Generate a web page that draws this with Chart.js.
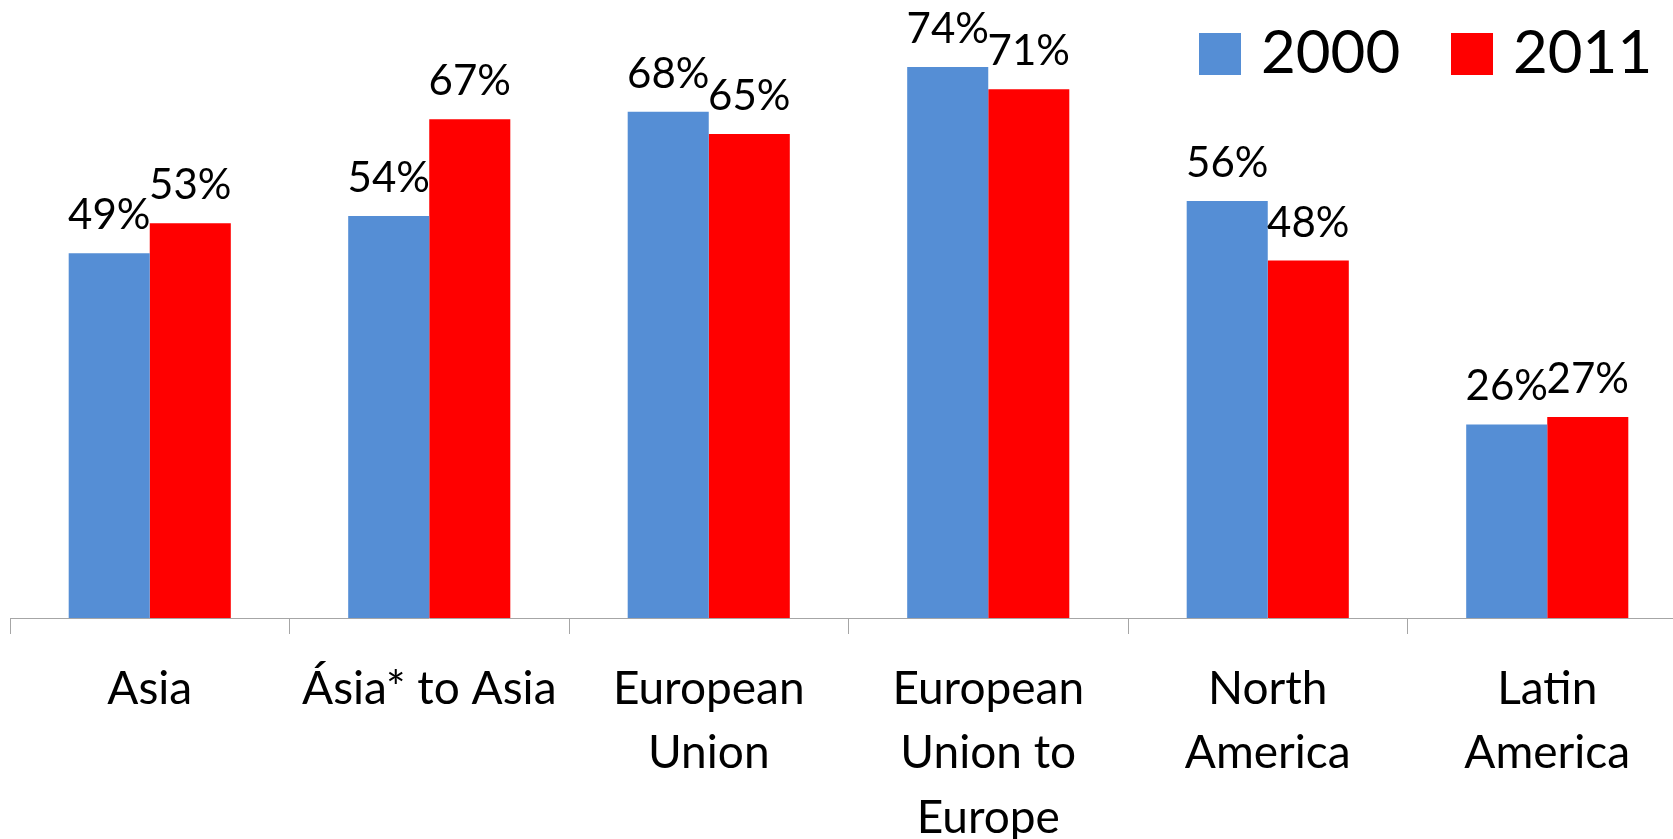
<!DOCTYPE html>
<html>
<head>
<meta charset="utf-8">
<script src="https://cdn.jsdelivr.net/npm/chart.js@4"></script>
<style>
  html, body { margin: 0; padding: 0; background: #fff; overflow: hidden; }
  #wrap { width: 1687px; height: 839px; }
</style>
</head>
<body>
<div id="wrap"><canvas id="chart" width="1687" height="839"></canvas></div>
<script>
// categories, split into lines the way they are shown under the axis
const regions = [
  ["Asia"],
  ["Ásia* to Asia"],
  ["European", "Union"],
  ["European", "Union to", "Europe"],
  ["North", "America"],
  ["Latin", "America"]
];
const seriesNames = ["2000", "2011"];
const share2000 = [49, 54, 68, 74, 56, 26];
const share2011 = [53, 67, 65, 71, 48, 27];
const seriesColors = ["#558ED5", "#FF0000"];

const FONT = "Lato, 'Open Sans', sans-serif";

// percentage labels above each bar
const valueLabels = {
  id: "valueLabels",
  afterDatasetsDraw(chart) {
    const ctx = chart.ctx;
    ctx.save();
    ctx.font = "42px " + FONT;
    ctx.fillStyle = "#000";
    ctx.textAlign = "center";
    ctx.textBaseline = "alphabetic";
    chart.data.datasets.forEach((ds, i) => {
      chart.getDatasetMeta(i).data.forEach((bar, j) => {
        ctx.fillText(ds.data[j] + "%", bar.x, bar.y - 24);
      });
    });
    ctx.restore();
  }
};

// legend in the top right corner
const cornerLegend = {
  id: "cornerLegend",
  afterDraw(chart) {
    const ctx = chart.ctx;
    const spots = [1199, 1451];
    ctx.save();
    ctx.font = "60px " + FONT;
    ctx.textBaseline = "middle";
    ctx.textAlign = "left";
    chart.data.datasets.forEach((ds, i) => {
      const x = spots[i];
      ctx.fillStyle = ds.backgroundColor;
      ctx.fillRect(x, 33, 42, 42);
      ctx.fillStyle = "#000";
      ctx.fillText(ds.label, x + 62, 54);
    });
    ctx.restore();
  }
};

new Chart(document.getElementById("chart"), {
  type: "bar",
  data: {
    labels: regions,
    datasets: [
      { label: seriesNames[0], data: share2000, backgroundColor: seriesColors[0] },
      { label: seriesNames[1], data: share2011, backgroundColor: seriesColors[1] }
    ]
  },
  options: {
    responsive: false,
    animation: false,
    devicePixelRatio: 1,
    layout: { padding: { left: 10, right: 0, top: 0, bottom: 0 } },
    categoryPercentage: 0.58,
    barPercentage: 1,
    plugins: { legend: { display: false }, tooltip: { enabled: false } },
    scales: {
      y: { display: false, min: 0, max: 83 },
      x: {
        afterFit(scale) { scale.height = 221; },
        border: { display: true, color: "#A6A6A6", width: 1 },
        grid: {
          display: true,
          offset: true,
          drawOnChartArea: false,
          drawTicks: true,
          tickLength: 16,
          color: "#A6A6A6"
        },
        ticks: {
          color: "#000",
          padding: 23,
          maxRotation: 0,
          autoSkip: false,
          font: { family: FONT, size: 46, lineHeight: 1.4 }
        }
      }
    }
  },
  plugins: [valueLabels, cornerLegend]
});
</script>
</body>
</html>
